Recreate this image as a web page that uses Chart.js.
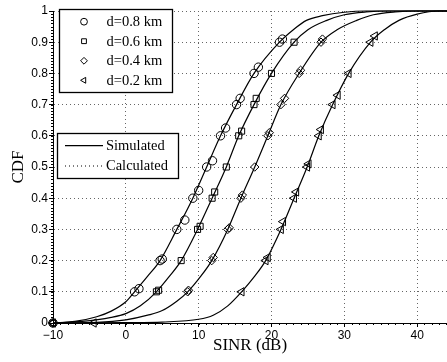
<!DOCTYPE html>
<html><head><meta charset="utf-8">
<script src="https://cdn.jsdelivr.net/npm/chart.js@4/dist/chart.umd.min.js"></script>
<style>html,body{margin:0;padding:0;background:#fff}#wrap{width:447px;height:362px}</style>
</head><body><div id="wrap"><canvas id="c" width="447" height="362"></canvas></div>
<script>
// ---- data ----
const xTicks = [-10, 0, 10, 20, 30, 40];
const yTicks = [0, 0.1, 0.2, 0.3, 0.4, 0.5, 0.6, 0.7, 0.8, 0.9, 1];
const seriesNames = ['d=0.8 km', 'd=0.6 km', 'd=0.4 km', 'd=0.2 km'];
const lineNames = ['Simulated', 'Calculated'];

const curve08 = [[-10,0],[-7,0.005],[-4,0.02],[-2,0.038],[0,0.068],[1.2,0.1],[3,0.15],[4.7,0.2],[7,0.3],[9.2,0.4],[11.1,0.5],[13,0.6],[15.2,0.7],[17.6,0.8],[21.1,0.9],[23,0.94],[24.8,0.97],[27,0.985],[30,0.996],[33,1],[44.1,1]];
const curve06 = [[-10,0],[-6,0.005],[-2,0.018],[0,0.03],[2,0.055],[4.2,0.1],[6,0.15],[7.6,0.2],[9.85,0.3],[11.85,0.4],[13.8,0.5],[15.5,0.6],[17.6,0.7],[20,0.8],[23.1,0.9],[25,0.94],[27.6,0.97],[30,0.988],[33,0.997],[36,1],[44.1,1]];
const curve04 = [[-10,0],[-4,0.002],[0,0.01],[3,0.025],[5,0.04],[7,0.07],[8.5,0.1],[10.3,0.15],[11.8,0.2],[14,0.3],[15.8,0.4],[17.7,0.5],[19.5,0.6],[21.3,0.7],[23.8,0.8],[26.8,0.9],[29,0.94],[31.7,0.97],[34,0.988],[37,0.997],[40,1],[44.1,1]];
const curve02 = [[-10,0],[0,0.001],[5,0.003],[10,0.012],[12,0.025],[14,0.055],[15.9,0.1],[17.7,0.15],[19.2,0.2],[21.3,0.3],[23.1,0.4],[24.9,0.5],[26.5,0.6],[28.4,0.7],[30.6,0.8],[33.6,0.9],[35.5,0.94],[37.5,0.97],[40,0.99],[43,1],[44.1,1]];

const marks08 = [[-10,0],[1.2,0.1],[1.8,0.11],[4.7,0.2],[5.0,0.205],[7.0,0.3],[8.1,0.33],[9.2,0.4],[10.0,0.425],[11.1,0.5],[11.9,0.52],[13.0,0.6],[13.7,0.625],[15.2,0.7],[15.7,0.72],[17.6,0.8],[18.2,0.82],[21.1,0.9],[21.5,0.91]];
const marks06 = [[-10,0],[4.2,0.1],[4.5,0.105],[7.6,0.2],[9.85,0.3],[10.2,0.31],[11.85,0.4],[12.2,0.42],[13.8,0.5],[15.5,0.6],[15.9,0.615],[17.6,0.7],[17.9,0.72],[20.0,0.8],[23.1,0.9]];
const marks04 = [[-10,0],[8.5,0.1],[8.6,0.105],[11.8,0.2],[12.0,0.21],[14.0,0.3],[14.2,0.305],[15.8,0.4],[16.0,0.41],[17.7,0.5],[19.5,0.6],[19.7,0.61],[21.3,0.7],[21.8,0.72],[23.8,0.8],[24.0,0.81],[26.8,0.9],[27.0,0.91]];
const marks02 = [[-10,0],[-4.4,0],[15.9,0.1],[19.2,0.2],[19.5,0.21],[21.3,0.3],[21.6,0.325],[23.1,0.4],[23.4,0.42],[24.9,0.5],[25.1,0.51],[26.5,0.6],[26.8,0.62],[28.4,0.7],[29.1,0.73],[30.6,0.8],[33.6,0.9],[34.2,0.92]];

// ---- styles ----
const SERIF = '"Liberation Serif", "Times New Roman", serif';
const SANS = '"Liberation Sans", Arial, sans-serif';
const markerDefs = [
  {style:'circle', rot:0, r:4.2},
  {style:'rect', rot:0, r:4.3},
  {style:'rectRot', rot:0, r:4.2},
  {style:'triangle', rot:-90, r:4.8}
];
const curves = [curve08, curve06, curve04, curve02];
const marks = [marks08, marks06, marks04, marks02];
const toPts = a => a.map(p => ({x:p[0], y:p[1]}));

const datasets = [];
curves.forEach((c, i) => datasets.push({
  label: seriesNames[i] + ' sim', data: toPts(c), showLine: true, borderColor: '#000',
  borderWidth: 1.2, pointRadius: 0, cubicInterpolationMode: 'monotone', fill: false, clip: false
}));
marks.forEach((m, i) => datasets.push({
  label: seriesNames[i], data: toPts(m), showLine: false, pointStyle: markerDefs[i].style,
  rotation: markerDefs[i].rot, pointRadius: markerDefs[i].r, borderColor: '#000',
  backgroundColor: 'rgba(0,0,0,0)', pointBorderWidth: 1, clip: false
}));

function drawMarker(ctx, def, x, y, r) {
  ctx.save();
  ctx.strokeStyle = '#000'; ctx.lineWidth = 1;
  ctx.beginPath();
  if (def.style === 'circle') { ctx.arc(x, y, r, 0, Math.PI * 2); }
  else if (def.style === 'rect') { const s = r * Math.SQRT1_2; ctx.rect(x - s, y - s, 2 * s, 2 * s); }
  else if (def.style === 'rectRot') { ctx.moveTo(x, y - r); ctx.lineTo(x + r, y); ctx.lineTo(x, y + r); ctx.lineTo(x - r, y); ctx.closePath(); }
  else { ctx.moveTo(x - r, y); ctx.lineTo(x + r * 0.5, y - r * 0.866); ctx.lineTo(x + r * 0.5, y + r * 0.866); ctx.closePath(); }
  ctx.stroke();
  ctx.restore();
}

const extras = {
  id: 'extras',
  afterDraw(chart) {
    const ctx = chart.ctx;
    const xs = chart.scales.x, ys = chart.scales.y;
    const area = chart.chartArea;
    ctx.save();
    ctx.strokeStyle = '#000'; ctx.lineWidth = 1;
    // minor ticks
    ctx.beginPath();
    for (let v = -10; v <= 44; v += 1) {
      const px = Math.round(xs.getPixelForValue(v)) + 0.5;
      ctx.moveTo(px, area.bottom); ctx.lineTo(px, area.bottom + 2);
    }
    for (let k = 0; k <= 100; k++) {
      const py = Math.round(ys.getPixelForValue(k / 100)) + 0.5;
      ctx.moveTo(area.left - 2, py); ctx.lineTo(area.left, py);
    }
    ctx.stroke();
    // legend 1 (markers)
    ctx.fillStyle = '#fff';
    ctx.fillRect(59.5, 9.5, 113, 83);
    ctx.lineWidth = 1.3;
    ctx.strokeRect(59.5, 9.5, 113, 83);
    ctx.fillStyle = '#000';
    ctx.font = '14.5px ' + SERIF;
    ctx.textBaseline = 'middle'; ctx.textAlign = 'left';
    const rows = [21.7, 41.2, 60.8, 80.3];
    seriesNames.forEach((n, i) => {
      drawMarker(ctx, markerDefs[i], 84, rows[i], 3.4);
      ctx.fillText(n, 106.5, rows[i] + 0.5);
    });
    // legend 2 (lines)
    ctx.fillStyle = '#fff';
    ctx.fillRect(57.5, 133.5, 121, 45);
    ctx.lineWidth = 1.3;
    ctx.strokeRect(57.5, 133.5, 121, 45);
    ctx.fillStyle = '#000';
    const rows2 = [145.7, 166];
    lineNames.forEach((n, i) => {
      ctx.beginPath();
      ctx.lineWidth = 1.2;
      ctx.setLineDash(i === 0 ? [] : [1, 3]);
      ctx.moveTo(65, rows2[i]); ctx.lineTo(103, rows2[i]);
      ctx.stroke();
      ctx.setLineDash([]);
      ctx.fillText(n, 106, rows2[i] + 0.5);
    });
    ctx.restore();
  }
};

new Chart(document.getElementById('c'), {
  type: 'scatter',
  data: { datasets },
  options: {
    responsive: false, animation: false, devicePixelRatio: 1,
    layout: { autoPadding: false, padding: { top: 11, right: 0, left: 0, bottom: 0 } },
    plugins: { legend: { display: false }, tooltip: { enabled: false } },
    elements: { line: { tension: 0 } },
    scales: {
      x: {
        type: 'linear', min: -10, max: 44.1,
        afterBuildTicks: s => { s.ticks = xTicks.map(v => ({ value: v })); },
        afterFit: s => { s.height = 39; },
        ticks: { color: '#000', font: { size: 12, family: SANS }, padding: 1,
          callback: v => (v < 0 ? '\u2212' + Math.abs(v) : String(v)), maxRotation: 0 },
        grid: { color: '#666', lineWidth: 1, tickLength: 4, tickColor: '#000', tickBorderDash: [] },
        border: { display: true, color: '#000', width: 1, dash: [1, 3] },
        title: { display: true, text: 'SINR (dB)', color: '#000', font: { size: 17, family: SERIF }, padding: { top: 0, bottom: 6 } }
      },
      y: {
        type: 'linear', min: 0, max: 1,
        afterBuildTicks: s => { s.ticks = yTicks.map(v => ({ value: v })); },
        afterFit: s => { s.width = 53; },
        ticks: { color: '#000', font: { size: 12, family: SANS }, padding: 1, callback: v => String(Math.round(v * 10) / 10) },
        grid: { color: '#666', lineWidth: 1, tickLength: 4, tickColor: '#000', tickBorderDash: [] },
        border: { display: true, color: '#000', width: 1, dash: [1, 3] },
        title: { display: true, text: 'CDF', color: '#000', font: { size: 17, family: SERIF }, padding: { top: 8, bottom: 0 } }
      }
    }
  },
  plugins: [extras]
});
</script></body></html>
